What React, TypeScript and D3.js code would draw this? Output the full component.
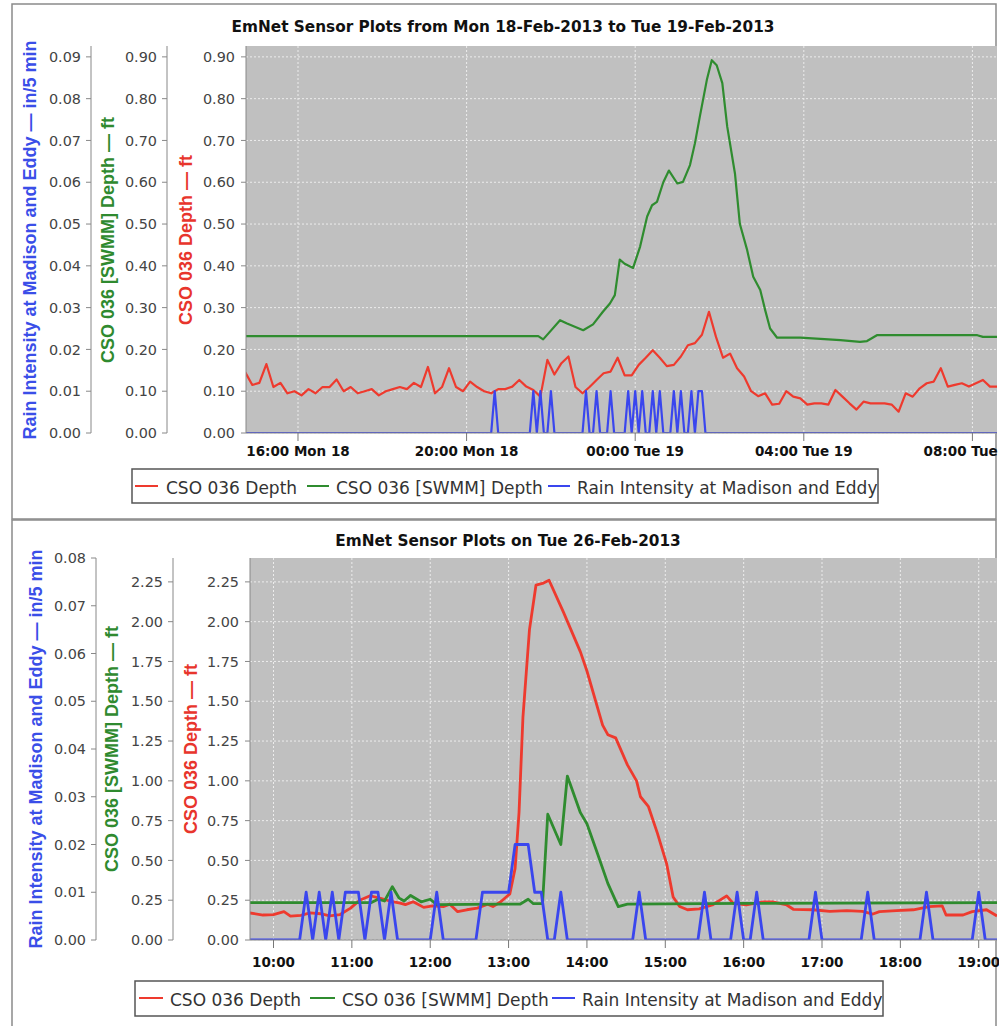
import * as d3 from 'd3'

const W = 999
const H = 1026

const RED = '#ee3a2e'
const GREEN = '#2f8c2f'
const BLUE = '#3a46ee'

const parseTime = d3.timeParse('%Y-%m-%d %H:%M')
const feb = (s: string) => parseTime(`2013-02-${s}`) as Date

type Pt = [Date, number]

// ---- Mon 18 / Tue 19 Feb ----
// CSO 036 Depth, one reading every 10 minutes from 18 14:45
const depthFeb18Start = '18 14:45'
const depthFeb18 = [
  0.145, 0.115, 0.12, 0.165, 0.11, 0.12, 0.095, 0.1, 0.09, 0.105,
  0.095, 0.11, 0.11, 0.128, 0.1, 0.11, 0.095, 0.1, 0.105, 0.09,
  0.1, 0.105, 0.11, 0.105, 0.12, 0.11, 0.158, 0.095, 0.11, 0.155,
  0.11, 0.1, 0.123, 0.11, 0.1, 0.095, 0.105, 0.105,
  0.111, 0.127, 0.111, 0.103, 0.087, 0.175, 0.14, 0.167, 0.183, 0.11,
  0.095, 0.11, 0.127, 0.143, 0.147, 0.18, 0.138, 0.138, 0.163, 0.18,
  0.198, 0.18, 0.16, 0.163, 0.183, 0.21, 0.215, 0.235, 0.29, 0.23,
  0.18, 0.19, 0.155, 0.135, 0.1, 0.088, 0.095, 0.068, 0.07, 0.1,
  0.087, 0.083, 0.068, 0.071, 0.071, 0.068, 0.103, 0.087, 0.071, 0.056,
  0.075, 0.071, 0.071, 0.071, 0.068, 0.051, 0.095, 0.087, 0.107, 0.119,
  0.123, 0.155, 0.111, 0.115, 0.119, 0.111, 0.119, 0.127, 0.111, 0.111,
]

const swmmFeb18: [string, number][] = [
  ['18 14:45', 0.232], ['18 21:42', 0.232], ['18 21:49', 0.224], ['18 22:13', 0.27],
  ['18 22:23', 0.262], ['18 22:46', 0.246], ['18 23:00', 0.26], ['18 23:14', 0.29],
  ['18 23:24', 0.31], ['18 23:31', 0.33], ['18 23:38', 0.415], ['18 23:45', 0.405],
  ['18 23:57', 0.395], ['19 00:07', 0.446], ['19 00:17', 0.518], ['19 00:24', 0.545],
  ['19 00:31', 0.553], ['19 00:40', 0.6], ['19 00:48', 0.628], ['19 01:00', 0.597],
  ['19 01:08', 0.601], ['19 01:18', 0.641], ['19 01:25', 0.693], ['19 01:32', 0.757],
  ['19 01:42', 0.845], ['19 01:49', 0.892], ['19 01:56', 0.88], ['19 02:04', 0.837],
  ['19 02:11', 0.733], ['19 02:22', 0.621], ['19 02:29', 0.5], ['19 02:39', 0.44],
  ['19 02:48', 0.374], ['19 02:58', 0.342], ['19 03:05', 0.294], ['19 03:12', 0.25],
  ['19 03:22', 0.228], ['19 03:55', 0.228], ['19 04:52', 0.222], ['19 05:20', 0.218],
  ['19 05:30', 0.22], ['19 05:44', 0.234], ['19 08:07', 0.234], ['19 08:15', 0.23],
  ['19 08:35', 0.23],
]

const rainFeb18: [string, number][] = [
  ['18 14:45', 0], ['18 20:35', 0], ['18 20:40', 0.01], ['18 20:45', 0],
  ['18 21:30', 0], ['18 21:35', 0.01], ['18 21:40', 0], ['18 21:45', 0.01],
  ['18 21:50', 0], ['18 21:55', 0], ['18 22:00', 0.01], ['18 22:05', 0],
  ['18 22:45', 0], ['18 22:50', 0.01], ['18 22:55', 0], ['18 23:00', 0],
  ['18 23:05', 0.01], ['18 23:10', 0], ['18 23:20', 0], ['18 23:25', 0.01],
  ['18 23:30', 0], ['18 23:45', 0], ['18 23:50', 0.01], ['18 23:55', 0],
  ['19 00:00', 0.01], ['19 00:05', 0], ['19 00:10', 0.01], ['19 00:15', 0],
  ['19 00:20', 0], ['19 00:25', 0.01], ['19 00:30', 0], ['19 00:35', 0.01],
  ['19 00:40', 0], ['19 00:50', 0], ['19 00:55', 0.01], ['19 01:00', 0],
  ['19 01:05', 0.01], ['19 01:10', 0], ['19 01:15', 0], ['19 01:20', 0.01],
  ['19 01:25', 0], ['19 01:30', 0.01], ['19 01:35', 0.01], ['19 01:40', 0],
  ['19 08:35', 0],
]

// ---- Tue 26 Feb ----
const depthFeb26: [string, number][] = [
  ['26 09:40', 0.172], ['26 09:52', 0.157], ['26 10:00', 0.16], ['26 10:08', 0.178],
  ['26 10:13', 0.15], ['26 10:21', 0.155], ['26 10:28', 0.17], ['26 10:36', 0.165],
  ['26 10:43', 0.152], ['26 10:51', 0.16], ['26 10:59', 0.2], ['26 11:06', 0.25],
  ['26 11:14', 0.278], ['26 11:22', 0.262], ['26 11:29', 0.245], ['26 11:37', 0.232],
  ['26 11:41', 0.222], ['26 11:47', 0.24], ['26 11:55', 0.205], ['26 12:02', 0.214],
  ['26 12:10', 0.21], ['26 12:15', 0.225], ['26 12:21', 0.178], ['26 12:28', 0.19],
  ['26 12:36', 0.2], ['26 12:44', 0.225], ['26 12:48', 0.21], ['26 12:54', 0.24],
  ['26 13:01', 0.29], ['26 13:05', 0.45], ['26 13:08', 0.8], ['26 13:11', 1.4],
  ['26 13:16', 1.95], ['26 13:21', 2.23], ['26 13:26', 2.24], ['26 13:31', 2.26],
  ['26 13:42', 2.06], ['26 13:55', 1.81], ['26 14:00', 1.69], ['26 14:12', 1.35],
  ['26 14:16', 1.29], ['26 14:22', 1.27], ['26 14:31', 1.1], ['26 14:38', 1.0],
  ['26 14:41', 0.9], ['26 14:47', 0.84], ['26 14:54', 0.67], ['26 15:01', 0.48],
  ['26 15:06', 0.27], ['26 15:11', 0.21], ['26 15:17', 0.19], ['26 15:26', 0.195],
  ['26 15:36', 0.22], ['26 15:47', 0.277], ['26 15:52', 0.23], ['26 16:02', 0.22],
  ['26 16:15', 0.24], ['26 16:22', 0.24], ['26 16:33', 0.22], ['26 16:38', 0.193],
  ['26 16:53', 0.19], ['26 17:06', 0.18], ['26 17:19', 0.185], ['26 17:31', 0.18],
  ['26 17:39', 0.163], ['26 17:44', 0.178], ['26 17:57', 0.185], ['26 18:10', 0.19],
  ['26 18:22', 0.21], ['26 18:32', 0.215], ['26 18:35', 0.157], ['26 18:48', 0.157],
  ['26 18:55', 0.178], ['26 19:06', 0.19], ['26 19:14', 0.151],
]

const swmmFeb26: [string, number][] = [
  ['26 09:40', 0.235], ['26 11:15', 0.235], ['26 11:20', 0.256], ['26 11:25', 0.245],
  ['26 11:31', 0.335], ['26 11:36', 0.265], ['26 11:40', 0.245], ['26 11:45', 0.28],
  ['26 11:53', 0.24], ['26 12:00', 0.256], ['26 12:05', 0.222], ['26 12:54', 0.226],
  ['26 13:09', 0.226], ['26 13:15', 0.256], ['26 13:19', 0.228], ['26 13:26', 0.228],
  ['26 13:30', 0.79], ['26 13:40', 0.6], ['26 13:45', 1.03], ['26 13:55', 0.8],
  ['26 14:00', 0.73], ['26 14:08', 0.545], ['26 14:16', 0.356], ['26 14:24', 0.21],
  ['26 14:31', 0.225], ['26 16:00', 0.23], ['26 19:14', 0.235],
]

const rainFeb26: [string, number][] = [
  ['26 09:40', 0], ['26 10:20', 0], ['26 10:25', 0.01], ['26 10:30', 0],
  ['26 10:35', 0.01], ['26 10:40', 0], ['26 10:45', 0.01], ['26 10:50', 0],
  ['26 10:55', 0.01], ['26 11:05', 0.01], ['26 11:10', 0], ['26 11:15', 0.01],
  ['26 11:20', 0.01], ['26 11:25', 0], ['26 11:30', 0.01], ['26 11:35', 0],
  ['26 12:00', 0], ['26 12:05', 0.01], ['26 12:10', 0], ['26 12:35', 0],
  ['26 12:40', 0.01], ['26 13:00', 0.01], ['26 13:05', 0.02], ['26 13:15', 0.02],
  ['26 13:20', 0.01], ['26 13:25', 0.01], ['26 13:30', 0], ['26 13:35', 0],
  ['26 13:40', 0.01], ['26 13:45', 0], ['26 14:35', 0], ['26 14:40', 0.01],
  ['26 14:45', 0], ['26 15:25', 0], ['26 15:30', 0.01], ['26 15:35', 0],
  ['26 15:50', 0], ['26 15:55', 0.01], ['26 16:00', 0], ['26 16:05', 0],
  ['26 16:10', 0.01], ['26 16:15', 0], ['26 16:50', 0], ['26 16:55', 0.01],
  ['26 17:00', 0], ['26 17:30', 0], ['26 17:35', 0.01], ['26 17:40', 0],
  ['26 18:15', 0], ['26 18:20', 0.01], ['26 18:25', 0], ['26 18:55', 0],
  ['26 19:00', 0.01], ['26 19:05', 0], ['26 19:15', 0],
]

// tick values
const depthTicksFeb18 = [0, 0.1, 0.2, 0.3, 0.4, 0.5, 0.6, 0.7, 0.8, 0.9]
const rainTicksFeb18 = [0, 0.01, 0.02, 0.03, 0.04, 0.05, 0.06, 0.07, 0.08, 0.09]
const depthTicksFeb26 = [0, 0.25, 0.5, 0.75, 1.0, 1.25, 1.5, 1.75, 2.0, 2.25]
const rainTicksFeb26 = [0, 0.01, 0.02, 0.03, 0.04, 0.05, 0.06, 0.07, 0.08]

const seriesNames = ['CSO 036 Depth', 'CSO 036 [SWMM] Depth', 'Rain Intensity at Madison and Eddy']
const seriesColors = [RED, GREEN, BLUE]
const axisTitles = ['CSO 036 Depth — ft', 'CSO 036 [SWMM] Depth — ft', 'Rain Intensity at Madison and Eddy — in/5 min']
const axisTitleColors = ['#e8352c', '#2f8a2f', '#3a4ee8']

const toPts = (rows: [string, number][]): Pt[] => rows.map(([t, v]) => [feb(t), v])
const stepPts = (start: string, stepMin: number, values: number[]): Pt[] =>
  values.map((v, i) => [d3.timeMinute.offset(feb(start), i * stepMin), v])

const topPanel = {
  id: 'feb18',
  frame: { x: 12, y: 4, w: 984, h: 515 },
  title: 'EmNet Sensor Plots from Mon 18-Feb-2013 to Tue 19-Feb-2013',
  titleX: 503,
  titleY: 32,
  plot: { left: 246, right: 997, top: 46, bottom: 433 },
  xDomain: [feb('18 14:46'), feb('19 08:35')],
  xInterval: d3.timeHour.every(4),
  xFormat: '%H:%M %a %d',
  xLabelDy: 23,
  depthMax: 0.926,
  rainMax: 0.0926,
  depthTicks: depthTicksFeb18,
  rainTicks: rainTicksFeb18,
  greenAxisX: 167,
  blueAxisX: 91,
  titleXs: [191.5, 114, 36],
  titleY2: 240,
  legend: { x: 132, y: 469, w: 746, h: 34, items: [[135, 158, 166], [307, 329, 336], [548, 570, 577]] },
  lineWidth: 2.2,
  depth: stepPts(depthFeb18Start, 10, depthFeb18),
  swmm: toPts(swmmFeb18),
  rain: toPts(rainFeb18),
}

const bottomPanel = {
  id: 'feb26',
  frame: { x: 12, y: 520, w: 984, h: 530 },
  title: 'EmNet Sensor Plots on Tue 26-Feb-2013',
  titleX: 508,
  titleY: 545.5,
  plot: { left: 250, right: 997, top: 558, bottom: 940 },
  xDomain: [feb('26 09:42'), feb('26 19:14')],
  xInterval: d3.timeHour.every(1),
  xFormat: '%H:%M',
  xLabelDy: 27,
  depthMax: 2.4,
  rainMax: 0.08,
  depthTicks: depthTicksFeb26,
  rainTicks: rainTicksFeb26,
  greenAxisX: 173,
  blueAxisX: 96,
  titleXs: [196.5, 118, 41.5],
  titleY2: 749,
  legend: { x: 135, y: 981, w: 748, h: 35, items: [[139, 163, 170], [310, 335, 342], [552, 575, 582]] },
  lineWidth: 2.8,
  depth: toPts(depthFeb26),
  swmm: toPts(swmmFeb26),
  rain: toPts(rainFeb26),
}

function Panel({ cfg }: { cfg: typeof topPanel }) {
  const { plot } = cfg
  const x = d3.scaleTime().domain(cfg.xDomain).range([plot.left, plot.right])
  const yDepth = d3.scaleLinear().domain([0, cfg.depthMax]).range([plot.bottom, plot.top])
  const yRain = d3.scaleLinear().domain([0, cfg.rainMax]).range([plot.bottom, plot.top])
  const depthLine = d3.line<Pt>().x((d) => x(d[0])).y((d) => yDepth(d[1]))
  const rainLine = d3.line<Pt>().x((d) => x(d[0])).y((d) => yRain(d[1]))
  const xTicks = x.ticks(cfg.xInterval as any)
  const fmtX = d3.timeFormat(cfg.xFormat)
  const fmtY = d3.format('.2f')
  const clipId = `clip-${cfg.id}`

  const axes = [
    { ax: plot.left, scale: yDepth, ticks: cfg.depthTicks, gap: 11 },
    { ax: cfg.greenAxisX, scale: yDepth, ticks: cfg.depthTicks, gap: 10 },
    { ax: cfg.blueAxisX, scale: yRain, ticks: cfg.rainTicks, gap: 10 },
  ]

  const lg = cfg.legend

  return (
    <g>
      <rect x={cfg.frame.x} y={cfg.frame.y} width={cfg.frame.w} height={cfg.frame.h}
        fill="#fff" stroke="#8a8a8a" strokeWidth={1.5} />
      <text x={cfg.titleX} y={cfg.titleY} textAnchor="middle" fontWeight="bold"
        fontSize={15.3} fill="#111">{cfg.title}</text>

      <defs>
        <clipPath id={clipId}>
          <rect x={plot.left} y={plot.top} width={plot.right - plot.left} height={plot.bottom - plot.top} />
        </clipPath>
      </defs>

      <rect x={plot.left} y={plot.top} width={plot.right - plot.left} height={plot.bottom - plot.top} fill="#c0c0c0" />

      {/* grid */}
      {cfg.depthTicks.map((t) => (
        <line key={`gy${t}`} x1={plot.left} x2={plot.right} y1={yDepth(t)} y2={yDepth(t)}
          stroke="#ececec" strokeWidth={1} strokeDasharray="2,2" />
      ))}
      {xTicks.map((t) => (
        <line key={`gx${+t}`} x1={x(t)} x2={x(t)} y1={plot.top} y2={plot.bottom}
          stroke="#ececec" strokeWidth={1} strokeDasharray="2,2" />
      ))}

      {/* series */}
      <g clipPath={`url(#${clipId})`} fill="none" strokeWidth={cfg.lineWidth} strokeLinejoin="round">
        <path d={depthLine(cfg.depth) ?? ''} stroke={RED} />
        <path d={depthLine(cfg.swmm) ?? ''} stroke={GREEN} />
        <path d={rainLine(cfg.rain) ?? ''} stroke={BLUE} />
      </g>

      {/* x axis */}
      <line x1={plot.left} x2={plot.right} y1={plot.bottom} y2={plot.bottom} stroke="#888" />
      {xTicks.map((t) => (
        <g key={`xt${+t}`}>
          <line x1={x(t)} x2={x(t)} y1={plot.bottom} y2={plot.bottom + 8} stroke="#777" />
          <text x={x(t)} y={plot.bottom + cfg.xLabelDy} textAnchor="middle" fontWeight="bold"
            fontSize={13.5} fill="#111">{fmtX(t)}</text>
        </g>
      ))}

      {/* y axes */}
      {axes.map((a, i) => (
        <g key={`ax${i}`}>
          <line x1={a.ax} x2={a.ax} y1={plot.top} y2={plot.bottom} stroke="#888" />
          {a.ticks.map((t) => (
            <g key={t}>
              <line x1={a.ax - 5} x2={a.ax} y1={a.scale(t)} y2={a.scale(t)} stroke="#888" />
              <text x={a.ax - a.gap} y={a.scale(t)} dy="0.36em" textAnchor="end"
                fontSize={14.4} fill="#444">{fmtY(t)}</text>
            </g>
          ))}
          <text transform={`translate(${cfg.titleXs[i]},${cfg.titleY2}) rotate(-90)`}
            textAnchor="middle" fontFamily="'Liberation Sans', Arial, sans-serif"
            fontWeight="bold" fontSize={18} fill={axisTitleColors[i]}>{axisTitles[i]}</text>
        </g>
      ))}

      {/* legend */}
      <rect x={lg.x} y={lg.y} width={lg.w} height={lg.h} fill="#fff" stroke="#555" strokeWidth={1.5} />
      {seriesNames.map((name, i) => (
        <g key={name}>
          <line x1={lg.items[i][0]} x2={lg.items[i][1]} y1={lg.y + 17} y2={lg.y + 17}
            stroke={seriesColors[i]} strokeWidth={2} />
          <text x={lg.items[i][2]} y={lg.y + 24.5} fontSize={17} fill="#333">{name}</text>
        </g>
      ))}
    </g>
  )
}

export default function App() {
  return (
    <svg width={W} height={H} style={{ position: 'absolute', left: 0, top: 0, background: '#fff' }}
      fontFamily="'DejaVu Sans', sans-serif">
      <Panel cfg={topPanel} />
      <Panel cfg={bottomPanel} />
    </svg>
  )
}
